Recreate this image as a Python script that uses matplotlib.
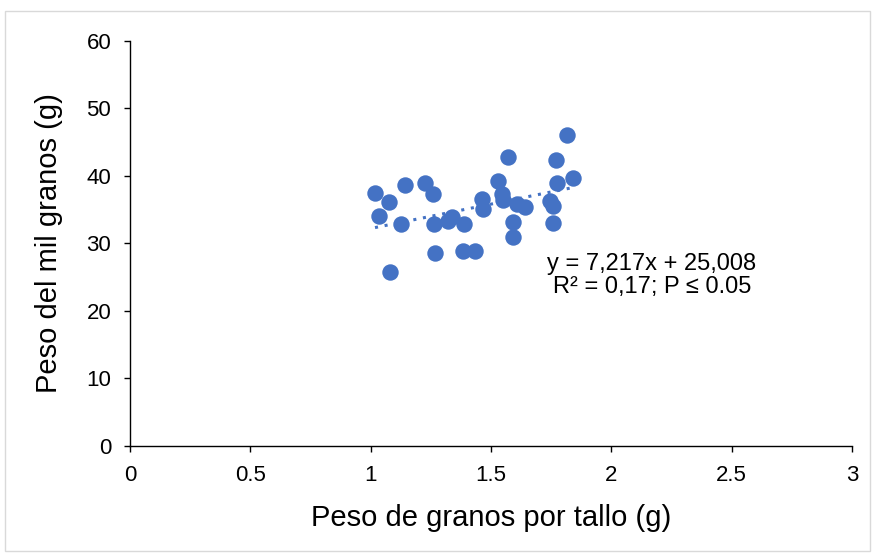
import matplotlib.pyplot as plt
import numpy as np
from matplotlib.patches import Rectangle

plt.rcParams['font.family'] = ['Liberation Sans', 'DejaVu Sans']

# peso de granos por tallo (g)
peso_tallo = [1.018, 1.035, 1.076, 1.080, 1.126, 1.142, 1.226, 1.259, 1.263,
              1.267, 1.322, 1.338, 1.388, 1.383, 1.433, 1.462, 1.467, 1.529,
              1.545, 1.549, 1.570, 1.592, 1.592, 1.608, 1.641, 1.745, 1.757,
              1.757, 1.770, 1.774, 1.816, 1.840]
# peso del mil granos (g)
peso_mil = [37.5, 34.0, 36.1, 25.8, 32.9, 38.7, 39.0, 37.3, 32.9,
            28.6, 33.4, 33.9, 32.9, 28.9, 28.9, 36.6, 35.1, 39.3,
            37.3, 36.4, 42.8, 31.0, 33.2, 35.9, 35.4, 36.3, 33.0,
            35.6, 42.4, 39.0, 46.1, 39.7]

slope, intercept = 7.217, 25.008

fig = plt.figure(figsize=(8.75, 5.57), dpi=100)
fig.patches.append(Rectangle((0.006, 0.011), 0.988, 0.970, transform=fig.transFigure,
                             fill=False, edgecolor='#d9d9d9', linewidth=1))
ax = fig.add_axes([0.1486, 0.1993, 0.8251, 0.7271])

color = '#4472C4'
ax.scatter(peso_tallo, peso_mil, s=140, color=color, zorder=3, linewidths=0)

xs = np.array([min(peso_tallo), max(peso_tallo)])
ax.plot(xs, slope * xs + intercept, linestyle=(0, (1, 2.2)), color=color,
        linewidth=2.2, zorder=2)

ax.set_xlim(0, 3)
ax.set_ylim(0, 60)
ax.set_xticks(np.arange(0, 3.01, 0.5))
ax.set_xticklabels(['0', '0.5', '1', '1.5', '2', '2.5', '3'])
ax.set_yticks(range(0, 61, 10))
ax.tick_params(axis='both', direction='out', length=4.5, width=1, labelsize=16,
               color='black', pad=9)
for side in ['top', 'right']:
    ax.spines[side].set_visible(False)
for side in ['left', 'bottom']:
    ax.spines[side].set_linewidth(1)

ax.set_xlabel('Peso de granos por tallo (g)', fontsize=21, labelpad=13)
ax.set_ylabel('Peso del mil granos (g)', fontsize=21, labelpad=17)

ax.text(2.169, 25.3, 'y = 7,217x + 25,008\nR² = 0,17; P ≤ 0.05', fontsize=17,
        ha='center', va='center', linespacing=1.05)

plt.savefig('out.png', dpi=100)
plt.close(fig)
